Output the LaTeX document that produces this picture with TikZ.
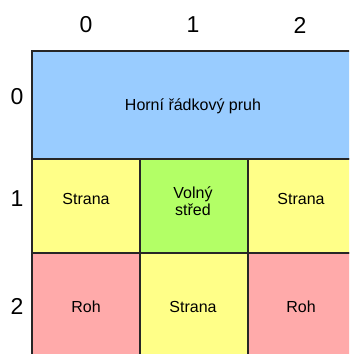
\documentclass[tikz,border=0pt]{standalone}
\usepackage{fontspec}
\setmainfont{Liberation Sans}
\definecolor{stripblue}{HTML}{99CCFF}
\definecolor{edgeyellow}{HTML}{FFFF88}
\definecolor{freegreen}{HTML}{B3FF66}
\definecolor{cornerred}{HTML}{FFAAAA}
\begin{document}
\begin{tikzpicture}[x=1pt,y=-1pt,
  cell/.style={draw=black!85,line width=1.2pt},
  celltext/.style={font=\fontsize{16}{17}\selectfont,align=center,inner sep=0pt},
  axis/.style={font=\fontsize{23}{25}\selectfont,inner sep=0pt}]
\useasboundingbox (0,0) rectangle (349,354);
\clip (0,0) rectangle (349,354);
% grid cells
\filldraw[cell,fill=stripblue] (32,51) rectangle (356,159);
\filldraw[cell,fill=edgeyellow] (32,159) rectangle (140,253);
\filldraw[cell,fill=freegreen] (140,159) rectangle (248,253);
\filldraw[cell,fill=edgeyellow] (248,159) rectangle (356,253);
\filldraw[cell,fill=cornerred] (32,253) rectangle (140,361);
\filldraw[cell,fill=edgeyellow] (140,253) rectangle (248,361);
\filldraw[cell,fill=cornerred] (248,253) rectangle (356,361);
% cell labels
\node[celltext] (top) at (193,106) {Horní řádkový pruh};
\node[celltext] (s10) at (86,199) {Strana};
\node[celltext] (mid) at (193,201) {Volný\\střed};
\node[celltext] (s12) at (301,199) {Strana};
\node[celltext] (r20) at (86,307) {Roh};
\node[celltext] (s21) at (193,307) {Strana};
\node[celltext] (r22) at (301,307) {Roh};
% column indices
\node[axis] (c0) at (86,25) {0};
\node[axis] (c1) at (193,25) {1};
\node[axis] (c2) at (300,25) {2};
% row indices
\node[axis] (w0) at (17,97) {0};
\node[axis] (w1) at (17,199) {1};
\node[axis] (w2) at (17,306) {2};
\end{tikzpicture}
\end{document}
